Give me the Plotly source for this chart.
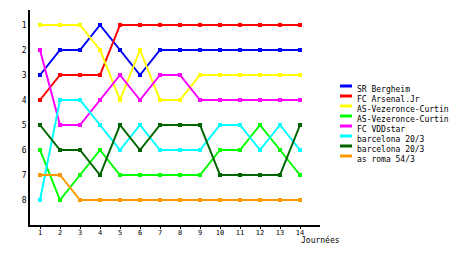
import plotly.graph_objects as go

journees = list(range(1, 15))
names = ["SR Bergheim", "FC Arsenal.Jr", "AS-Vezeronce-Curtin", "AS-Vezeronce-Curtin",
         "FC VDDstar", "barcelona 20/3", "barcelona 20/3", "as roma 54/3"]
colors = ["#0000ff", "#ff0000", "#ffff00", "#00ff00", "#ff00ff", "#00ffff", "#006400", "#ff9900"]

sr_bergheim = [3, 2, 2, 1, 2, 3, 2, 2, 2, 2, 2, 2, 2, 2]
fc_arsenal = [4, 3, 3, 3, 1, 1, 1, 1, 1, 1, 1, 1, 1, 1]
as_vez_1 = [1, 1, 1, 2, 4, 2, 4, 4, 3, 3, 3, 3, 3, 3]
as_vez_2 = [6, 8, 7, 6, 7, 7, 7, 7, 7, 6, 6, 5, 6, 7]
fc_vddstar = [2, 5, 5, 4, 3, 4, 3, 3, 4, 4, 4, 4, 4, 4]
barcelona_1 = [8, 4, 4, 5, 6, 5, 6, 6, 6, 5, 5, 6, 5, 6]
barcelona_2 = [5, 6, 6, 7, 5, 6, 5, 5, 5, 7, 7, 7, 7, 5]
as_roma = [7, 7, 8, 8, 8, 8, 8, 8, 8, 8, 8, 8, 8, 8]
series = [sr_bergheim, fc_arsenal, as_vez_1, as_vez_2, fc_vddstar, barcelona_1, barcelona_2, as_roma]
y_ticks = [1, 2, 3, 4, 5, 6, 7, 8]

W, H = 460, 255
L, R, T, B = 30, 140, 10, 30
FONT = "DejaVu Sans Mono"

fig = go.Figure()
for name, col, vals in zip(names, colors, series):
    fig.add_trace(go.Scatter(x=journees, y=vals, name=name, mode="lines+markers",
                             line=dict(color=col, width=2),
                             marker=dict(symbol="square", size=4, color=col),
                             showlegend=False))

def px_x(p):
    return (p - L) / (W - L - R)

def px_y(p):
    return (H - B - p) / (H - T - B)

shapes = []
annotations = []
for i, (name, col) in enumerate(zip(names, colors)):
    ly = 86 + 10 * i
    shapes.append(dict(type="line", xref="paper", yref="paper",
                       x0=px_x(340), x1=px_x(352), y0=px_y(ly), y1=px_y(ly),
                       line=dict(color=col, width=3)))
    annotations.append(dict(text=name, xref="paper", yref="paper",
                            x=px_x(355), y=px_y(ly + 3.5), xanchor="left", yanchor="middle",
                            showarrow=False, font=dict(family=FONT, size=8, color="black")))
annotations.append(dict(text="Journées", xref="paper", yref="paper",
                        x=px_x(299), y=px_y(240), xanchor="left", yanchor="middle",
                        showarrow=False, font=dict(family=FONT, size=8, color="black")))

fig.update_layout(
    width=W, height=H,
    margin=dict(l=L, r=R, t=T, b=B, pad=0),
    paper_bgcolor="white", plot_bgcolor="white",
    font=dict(family=FONT, size=8, color="black"),
    shapes=shapes, annotations=annotations,
    xaxis=dict(range=[0.5, 15], tickvals=journees, showgrid=False, zeroline=False,
               showline=True, linecolor="black", linewidth=1.5,
               ticks="", tickfont=dict(size=7)),
    xaxis2=dict(range=[0.5, 15], tickvals=journees, overlaying="x", matches="x",
                side="bottom", anchor="y", showgrid=False, zeroline=False,
                showticklabels=False, showline=False,
                ticks="outside", ticklen=3, tickcolor="black", tickwidth=1),
    yaxis=dict(range=[9, 0.4], tickvals=y_ticks, showgrid=False, zeroline=False,
               showline=True, linecolor="black", linewidth=1.5,
               ticks="", ticklabelstandoff=0, tickfont=dict(size=8)),
)
fig.add_trace(go.Scatter(x=[journees[0]], y=[y_ticks[0]], xaxis="x2", mode="markers",
                         marker=dict(opacity=0), showlegend=False, hoverinfo="skip"))
fig.write_html("out.html")
